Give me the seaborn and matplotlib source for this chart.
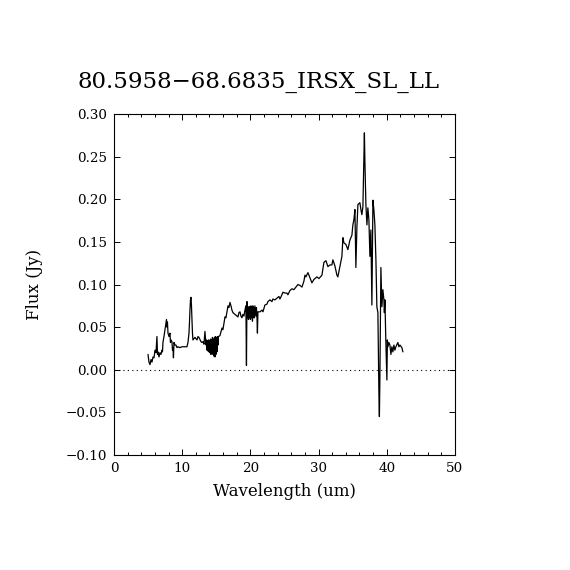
#IRS spectrum plot - flux vs wavelength

import pandas as pd
import numpy as np
import seaborn as sns
import matplotlib
matplotlib.use("Agg")
import matplotlib.pyplot as plt
from matplotlib.ticker import MultipleLocator

title = "80.5958\u221268.6835_IRSX_SL_LL"

#wavelength (um)
wave = [4.99, 5.13, 5.28, 5.43, 5.57, 5.72, 5.87, 6.01, 6.16, 6.30, 6.38, 6.45, 6.60, 6.74,
        6.89, 7.04, 7.11, 7.18, 7.33, 7.48, 7.62, 7.70, 7.77, 7.84, 7.92, 8.06, 8.21, 8.28,
        8.36, 8.50, 8.58, 8.65, 8.72, 8.80, 8.94, 9.09, 9.24, 9.38, 9.68, 9.97, 10.12, 10.41,
        10.70, 10.85, 11.00, 11.07, 11.14, 11.22, 11.29, 11.36, 11.44, 11.51, 11.58, 11.88,
        12.17, 12.32, 12.46, 12.76, 12.90, 13.05, 13.20, 13.34, 13.49,
        13.56, 13.64, 13.71, 13.78, 13.86, 13.93, 14.00, 14.08, 14.15, 14.22, 14.30, 14.37,
        14.44, 14.52, 14.59, 14.66, 14.74, 14.81, 14.88, 14.96, 15.03, 15.10, 15.18, 15.25,
        15.32, 15.54, 15.84, 15.98, 16.28, 16.42, 16.57, 16.72, 16.86, 17.01, 17.16, 17.30,
        17.45, 17.74, 18.04, 18.18, 18.33, 18.48, 18.62, 18.77, 18.91, 19.06, 19.21, 19.35,
        19.43, 19.50, 19.57, 19.65, 19.72, 19.79, 19.87, 19.94, 20.01, 20.09, 20.16, 20.23,
        20.31, 20.38, 20.45, 20.53, 20.60, 20.67, 20.82, 20.89, 20.97, 21.04, 21.11, 21.41,
        21.70, 21.85, 22.14, 22.43, 22.58, 22.87, 23.17, 23.31, 23.61, 23.90, 24.19, 24.34,
        24.63, 24.78, 25.07, 25.37, 25.51, 25.81, 26.10, 26.39, 26.69, 26.98, 27.27, 27.57,
        27.86, 28.01, 28.15, 28.45, 28.74, 29.03, 29.33, 29.77, 30.06, 30.50, 30.79, 31.09,
        31.38, 31.67, 31.96, 32.11, 32.40, 32.70, 32.84, 33.14, 33.43, 33.58, 33.72, 34.02,
        34.31, 34.60, 34.90, 35.04, 35.19, 35.34, 35.48, 35.63, 35.78, 36.07, 36.22, 36.36,
        36.51, 36.66, 36.73, 36.80, 36.95, 37.10, 37.24, 37.39, 37.54, 37.68, 37.83, 37.98,
        38.12, 38.27, 38.42, 38.56, 38.71, 38.86, 38.93, 39.00, 39.15, 39.30, 39.44, 39.59,
        39.66, 39.74, 39.88, 40.03, 40.10, 40.18, 40.32, 40.47, 40.62, 40.76, 40.91, 41.06,
        41.20, 41.35, 41.64, 41.79, 41.94, 42.23, 42.38]

#flux (Jy)
flux = [0.018, 0.009, 0.006, 0.012, 0.009, 0.015, 0.014, 0.023, 0.020, 0.039, 0.018, 0.021, 0.015, 0.020,
        0.018, 0.023, 0.021, 0.032, 0.039, 0.047, 0.055, 0.059, 0.050, 0.056, 0.043, 0.039, 0.043, 0.032,
        0.035, 0.033, 0.023, 0.026, 0.014, 0.032, 0.029, 0.029, 0.026, 0.027, 0.026, 0.027, 0.027, 0.027,
        0.027, 0.032, 0.043, 0.055, 0.070, 0.082, 0.085, 0.076, 0.059, 0.043, 0.035, 0.038,
        0.035, 0.039, 0.038, 0.033, 0.032, 0.033, 0.030, 0.045, 0.029,
        0.035, 0.023, 0.034, 0.022, 0.035, 0.021, 0.034, 0.020, 0.036, 0.018, 0.035, 0.021,
        0.038, 0.018, 0.036, 0.016, 0.038, 0.015, 0.039, 0.018, 0.038, 0.021, 0.039, 0.029,
        0.039, 0.040, 0.049, 0.047, 0.062, 0.061, 0.068, 0.075, 0.073, 0.079, 0.075, 0.070,
        0.067, 0.065, 0.063, 0.062, 0.067, 0.068, 0.063, 0.061, 0.065, 0.063, 0.070, 0.075,
        0.005, 0.080, 0.062, 0.070, 0.059, 0.074, 0.061, 0.074, 0.059, 0.075, 0.061, 0.072,
        0.057, 0.075, 0.061, 0.073, 0.061, 0.075, 0.063, 0.073, 0.063, 0.043, 0.068, 0.068,
        0.070, 0.068, 0.076, 0.077, 0.080, 0.082, 0.080, 0.083, 0.082, 0.084, 0.086, 0.083,
        0.088, 0.091, 0.090, 0.090, 0.088, 0.093, 0.095, 0.094, 0.097, 0.100, 0.099, 0.097,
        0.104, 0.111, 0.109, 0.114, 0.108, 0.102, 0.106, 0.109, 0.107, 0.111, 0.126, 0.128,
        0.121, 0.123, 0.123, 0.129, 0.122, 0.111, 0.109, 0.121, 0.133, 0.155, 0.149, 0.147,
        0.141, 0.152, 0.158, 0.170, 0.176, 0.188, 0.120, 0.167, 0.194, 0.196, 0.188, 0.182,
        0.191, 0.249, 0.278, 0.246, 0.194, 0.170, 0.190, 0.176, 0.133, 0.164, 0.076, 0.199,
        0.188, 0.170, 0.129, 0.074, 0.067, -0.029, -0.055, -0.012, 0.120, 0.074, 0.094, 0.082,
        0.067, 0.082, 0.032, -0.012, 0.035, 0.027, 0.032, 0.029, 0.018, 0.027, 0.021, 0.029,
        0.023, 0.027, 0.032, 0.027, 0.029, 0.026, 0.021]

xticks = [0, 10, 20, 30, 40, 50]
yticks = [-0.10, -0.05, 0.00, 0.05, 0.10, 0.15, 0.20, 0.25, 0.30]

spec = pd.DataFrame({'wave': wave, 'flux': flux})

sns.set_style("ticks")
plt.rcParams['font.family'] = ['DejaVu Serif']
plt.rcParams['text.color'] = 'black'
plt.rcParams['axes.labelcolor'] = 'black'

fig = plt.figure(figsize=(5.7, 5.7), dpi=100)
ax = fig.add_axes([0.2, 0.2018, 0.598, 0.598])

sns.lineplot(data=spec, x='wave', y='flux', ax=ax, color='black', linewidth=0.9,
             sort=False, estimator=None)
ax.axhline(0, color='black', linestyle=(0, (1, 3)), linewidth=0.8)

ax.set_xlim(0, 50)
ax.set_ylim(-0.10, 0.30)
ax.set_xticks(xticks)
ax.set_yticks(yticks)
ax.set_xticklabels([str(t) for t in xticks])
ax.set_yticklabels(['%.2f' % t if t >= 0 else '\u2212%.2f' % abs(t) for t in yticks])
ax.xaxis.set_minor_locator(MultipleLocator(2))

ax.tick_params(which='both', direction='in', top=True, right=True, width=0.7, colors='black',
               labelsize=9.7)
ax.tick_params(which='major', length=4.3, pad=5)
ax.tick_params(which='minor', length=2)
for s in ax.spines.values():
    s.set_linewidth(0.8)
    s.set_color('black')

ax.set_xlabel('Wavelength (um)', fontsize=12, labelpad=6)
ax.set_ylabel('Flux (Jy)', fontsize=12, labelpad=16)
fig.text(0.453, 0.856, title, fontsize=16.5, ha='center', va='center', color='black')

fig.savefig('out.png', dpi=100)
